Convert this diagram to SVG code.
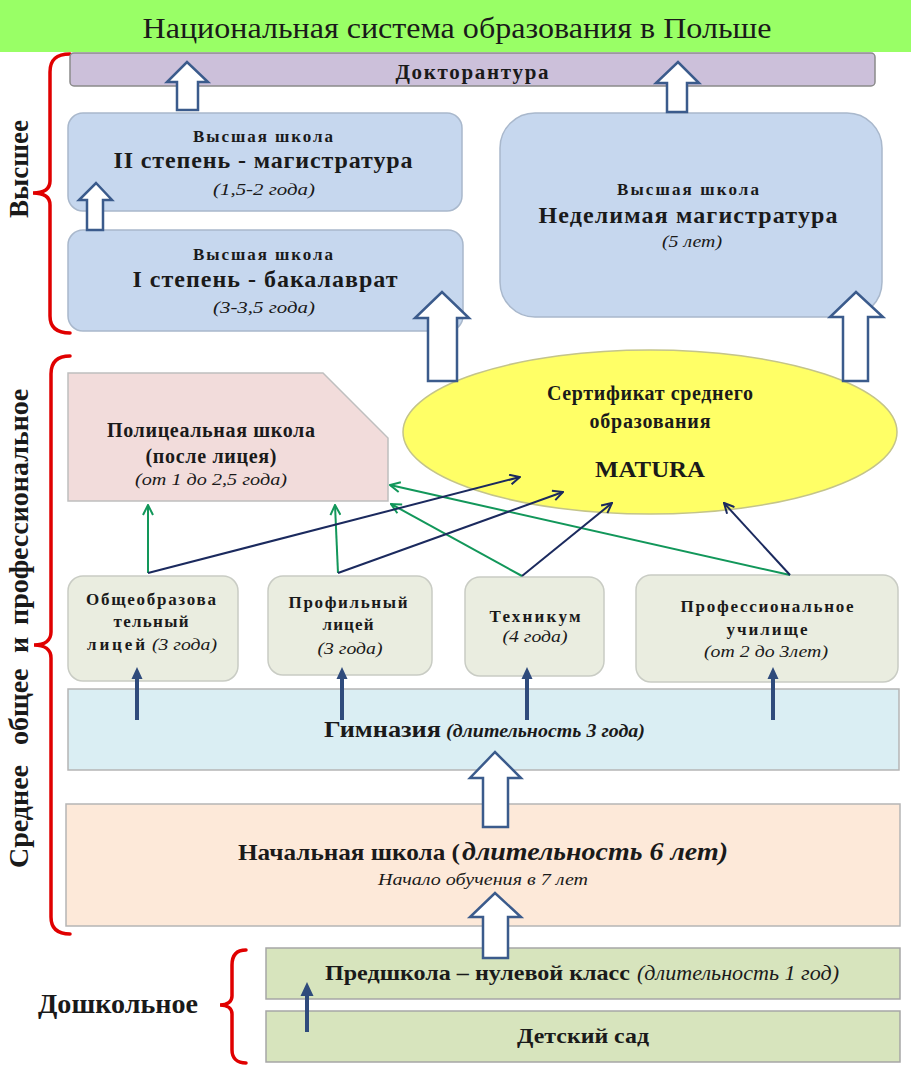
<svg xmlns="http://www.w3.org/2000/svg" width="911" height="1073" viewBox="0 0 911 1073" font-family="'Liberation Serif', 'DejaVu Serif', serif">
<style>
text{font-family:'Liberation Serif','DejaVu Serif',serif;fill:#1a1a1a}
.b{font-weight:bold}
.i{font-style:italic}
.bi{font-weight:bold;font-style:italic}
.c{text-anchor:middle}
.blue{fill:#C6D7EE;stroke:#A9B8CC;stroke-width:1.5}
.lyc{fill:#EAEDE0;stroke:#C9CCC4;stroke-width:1.5}
.bar{stroke:#B5B5B5;stroke-width:1.5}
.brace{fill:none;stroke:#E00000;stroke-width:3.5;stroke-linecap:round}
.block{fill:#FFFFFF;stroke:#3B5B8C;stroke-width:2.5;stroke-linejoin:miter}
.solid{fill:#2F4B7C}
.g{fill:none;stroke:#12975A;stroke-width:2}
.n{fill:none;stroke:#1B2A5E;stroke-width:2}
</style>
<defs>
<marker id="ag" viewBox="0 0 12 12" refX="11" refY="6" markerWidth="12" markerHeight="12" markerUnits="userSpaceOnUse" orient="auto"><path d="M1,1 L11,6 L1,11" fill="none" stroke="#12975A" stroke-width="2"/></marker>
<marker id="an" viewBox="0 0 12 12" refX="11" refY="6" markerWidth="12" markerHeight="12" markerUnits="userSpaceOnUse" orient="auto"><path d="M1,1 L11,6 L1,11" fill="none" stroke="#1B2A5E" stroke-width="2"/></marker>
</defs>
<rect width="911" height="1073" fill="#FFFFFF"/>

<g id="title">
<rect x="0" y="0" width="911" height="52" fill="#99FF66"/>
<text x="457" y="38" class="c" font-size="30" textLength="629" lengthAdjust="spacingAndGlyphs">Национальная система образования в Польше</text>
</g>

<g id="braces">
<path class="brace" d="M70,54 C56,54 50,60 50,72 L50,181 C50,189 44,193 33,193 C44,193 50,197 50,205 L50,316 C50,327 56,333 70,333"/>
<text class="b" font-size="28" transform="translate(28,169) rotate(-90)" text-anchor="middle" textLength="98" lengthAdjust="spacingAndGlyphs">Высшее</text>
<path class="brace" d="M70,356 C57,356 51,362 51,374 L51,632 C51,640 45,645 34,645 C45,645 51,650 51,658 L51,917 C51,928 57,934 70,934"/>
<text class="b" font-size="28" transform="translate(28,868) rotate(-90)"><tspan x="0">Среднее</tspan><tspan x="123">общее</tspan><tspan x="215">и</tspan><tspan x="243">профессиональное</tspan></text>
<path class="brace" d="M246,950 C237,950 232,955 232,965 L232,996 C232,1001 228,1005 220,1005 C228,1005 232,1009 232,1014 L232,1050 C232,1058 237,1063 246,1063"/>
<text x="38" y="1013" class="b" font-size="28" textLength="160" lengthAdjust="spacingAndGlyphs">Дошкольное</text>
</g>

<g id="doctorate">
<rect x="70" y="53" width="805" height="33" rx="4" fill="#CCC0DA" stroke="#8A8A8A" stroke-width="1.5"/>
<text x="472" y="79" class="b c" font-size="21" textLength="153">Докторантура</text>
</g>

<g id="master2">
<rect class="blue" x="68" y="113" width="394" height="98" rx="15"/>
<text x="263" y="142" class="b c" font-size="17" textLength="140">Высшая школа</text>
<text x="263" y="168" class="b c" font-size="24" textLength="299">II степень - магистратура</text>
<text x="264" y="195" class="i c" font-size="17" textLength="102" lengthAdjust="spacingAndGlyphs">(1,5-2 года)</text>
</g>

<g id="bachelor">
<rect class="blue" x="68" y="230" width="395" height="101" rx="15"/>
<text x="263" y="260" class="b c" font-size="17" textLength="140">Высшая школа</text>
<text x="265" y="287" class="b c" font-size="24" textLength="265">I степень - бакалаврат</text>
<text x="264" y="313" class="i c" font-size="17" textLength="102" lengthAdjust="spacingAndGlyphs">(3-3,5 года)</text>
</g>

<g id="unified">
<rect class="blue" x="500" y="113" width="382" height="204" rx="35"/>
<text x="688" y="195" class="b c" font-size="17" textLength="142">Высшая школа</text>
<text x="688" y="223" class="b c" font-size="24" textLength="299">Неделимая магистратура</text>
<text x="692" y="247" class="i c" font-size="17" textLength="60" lengthAdjust="spacingAndGlyphs">(5 лет)</text>
</g>

<g id="postsecondary">
<path d="M68,373 L323,373 L388,438 L388,501 L68,501 Z" fill="#F2DCDB" stroke="#BFBFBF" stroke-width="1.5"/>
<text x="211" y="437" class="b c" font-size="20" textLength="208">Полицеальная школа</text>
<text x="211" y="463" class="b c" font-size="20" textLength="131">(после лицея)</text>
<text x="211" y="485" class="i c" font-size="17" textLength="152" lengthAdjust="spacingAndGlyphs">(от 1 до 2,5 года)</text>
</g>

<g id="matura">
<ellipse cx="650" cy="432" rx="247" ry="82" fill="#FFFF66" stroke="#C4C48A" stroke-width="1.5"/>
<text x="650" y="400" class="b c" font-size="20" textLength="206">Сертификат среднего</text>
<text x="650" y="428" class="b c" font-size="20" textLength="121">образования</text>
<text x="650" y="477" class="b c" font-size="23" textLength="110" lengthAdjust="spacingAndGlyphs">MATURA</text>
</g>

<g id="lyceum-general">
<rect class="lyc" x="68" y="576" width="170" height="105" rx="15"/>
<text x="151" y="605" class="b c" font-size="17" textLength="130">Общеобразова</text>
<text x="151" y="627" class="b c" font-size="17" textLength="75">тельный</text>
<text x="87" y="650" class="b" font-size="17" textLength="58">лицей</text>
<text x="152" y="650" class="i" font-size="17" textLength="65" lengthAdjust="spacingAndGlyphs">(3 года)</text>
</g>

<g id="lyceum-profile">
<rect class="lyc" x="268" y="576" width="164" height="99" rx="15"/>
<text x="348" y="608" class="b c" font-size="17" textLength="119">Профильный</text>
<text x="348" y="630" class="b c" font-size="17" textLength="51">лицей</text>
<text x="350" y="654" class="i c" font-size="17" textLength="65" lengthAdjust="spacingAndGlyphs">(3 года)</text>
</g>

<g id="technikum">
<rect class="lyc" x="465" y="577" width="139" height="99" rx="15"/>
<text x="535" y="622" class="b c" font-size="17" textLength="91">Техникум</text>
<text x="535" y="642" class="i c" font-size="17" textLength="65" lengthAdjust="spacingAndGlyphs">(4 года)</text>
</g>

<g id="vocational">
<rect class="lyc" x="636" y="575" width="262" height="107" rx="15"/>
<text x="767" y="612" class="b c" font-size="17" textLength="173">Профессиональное</text>
<text x="767" y="635" class="b c" font-size="17" textLength="81">училище</text>
<text x="766" y="657" class="i c" font-size="17" textLength="124" lengthAdjust="spacingAndGlyphs">(от 2 до 3лет)</text>
</g>

<g id="gymnasium">
<rect class="bar" x="68" y="689" width="831" height="81" fill="#DAEEF3"/>
<text x="324" y="737" class="b" font-size="24" textLength="117" lengthAdjust="spacingAndGlyphs">Гимназия</text>
<text x="446" y="737" class="bi" font-size="18" textLength="199" lengthAdjust="spacingAndGlyphs">(длительность 3 года)</text>
</g>

<g id="primary">
<rect class="bar" x="66" y="804" width="834" height="122" fill="#FDE9D9"/>
<text x="238" y="860" class="b" font-size="24" textLength="222" lengthAdjust="spacingAndGlyphs">Начальная  школа (</text>
<text x="462" y="860" class="bi" font-size="25" textLength="266" lengthAdjust="spacingAndGlyphs">длительность  6 лет)</text>
<text x="483" y="885" class="i c" font-size="17" textLength="210" lengthAdjust="spacingAndGlyphs">Начало обучения в 7 лет</text>
</g>

<g id="preschool">
<rect x="266" y="948" width="634" height="51" fill="#D7E4BD" stroke="#A6A6A6" stroke-width="1.5"/>
<text x="325" y="980" class="b" font-size="22" textLength="305" lengthAdjust="spacingAndGlyphs">Предшкола – нулевой класс</text>
<text x="637" y="980" class="i" font-size="20" textLength="202" lengthAdjust="spacingAndGlyphs">(длительность 1 год)</text>
</g>

<g id="kindergarten">
<rect x="266" y="1011" width="634" height="51" fill="#D7E4BD" stroke="#A6A6A6" stroke-width="1.5"/>
<text x="583" y="1043" class="b c" font-size="22" textLength="132" lengthAdjust="spacingAndGlyphs">Детский сад</text>
</g>

<g id="connectors">
<path class="block" d="M177,110 L177,82 L167,82 L187,62 L208,82 L198,82 L198,110 Z"/>
<path class="block" d="M667,112 L667,83 L656,83 L678,62 L699,83 L687,83 L687,112 Z"/>
<path class="block" d="M87,230 L87,200 L79,200 L96,183 L112,200 L103,200 L103,230 Z"/>
<path class="block" d="M428,381 L428,318 L415,318 L442,292 L469,318 L457,318 L457,381 Z"/>
<path class="block" d="M843,381 L843,317 L830,317 L856,292 L883,317 L868,317 L868,381 Z"/>
<path class="block" d="M483,827 L483,778 L470,778 L495,752 L521,778 L508,778 L508,827 Z"/>
<path class="block" d="M483,958 L483,917 L470,917 L495,893 L521,917 L508,917 L508,958 Z"/>

<path class="solid" d="M135,720 L135,679 L131.5,679 L137,667 L142.5,679 L139,679 L139,720 Z"/>
<path class="solid" d="M340,720 L340,679 L336.5,679 L342,667 L347.5,679 L344,679 L344,720 Z"/>
<path class="solid" d="M525,720 L525,679 L521.5,679 L527,667 L532.5,679 L529,679 L529,720 Z"/>
<path class="solid" d="M771,720 L771,679 L767.5,679 L773,667 L778.5,679 L775,679 L775,720 Z"/>
<path class="solid" d="M305,1032 L305,996 L300.5,996 L307,982 L313.5,996 L309,996 L309,1032 Z"/>

<path class="g" d="M148,573 L148,505" marker-end="url(#ag)"/>
<path class="g" d="M338,573 L335,505" marker-end="url(#ag)"/>
<path class="g" d="M522,576 L391,504" marker-end="url(#ag)"/>
<path class="g" d="M790,575 L390,485" marker-end="url(#ag)"/>
<path class="n" d="M148,573 L520,477" marker-end="url(#an)"/>
<path class="n" d="M338,573 L563,492" marker-end="url(#an)"/>
<path class="n" d="M522,576 L612,503" marker-end="url(#an)"/>
<path class="n" d="M790,575 L724,503" marker-end="url(#an)"/>
</g>
</svg>
